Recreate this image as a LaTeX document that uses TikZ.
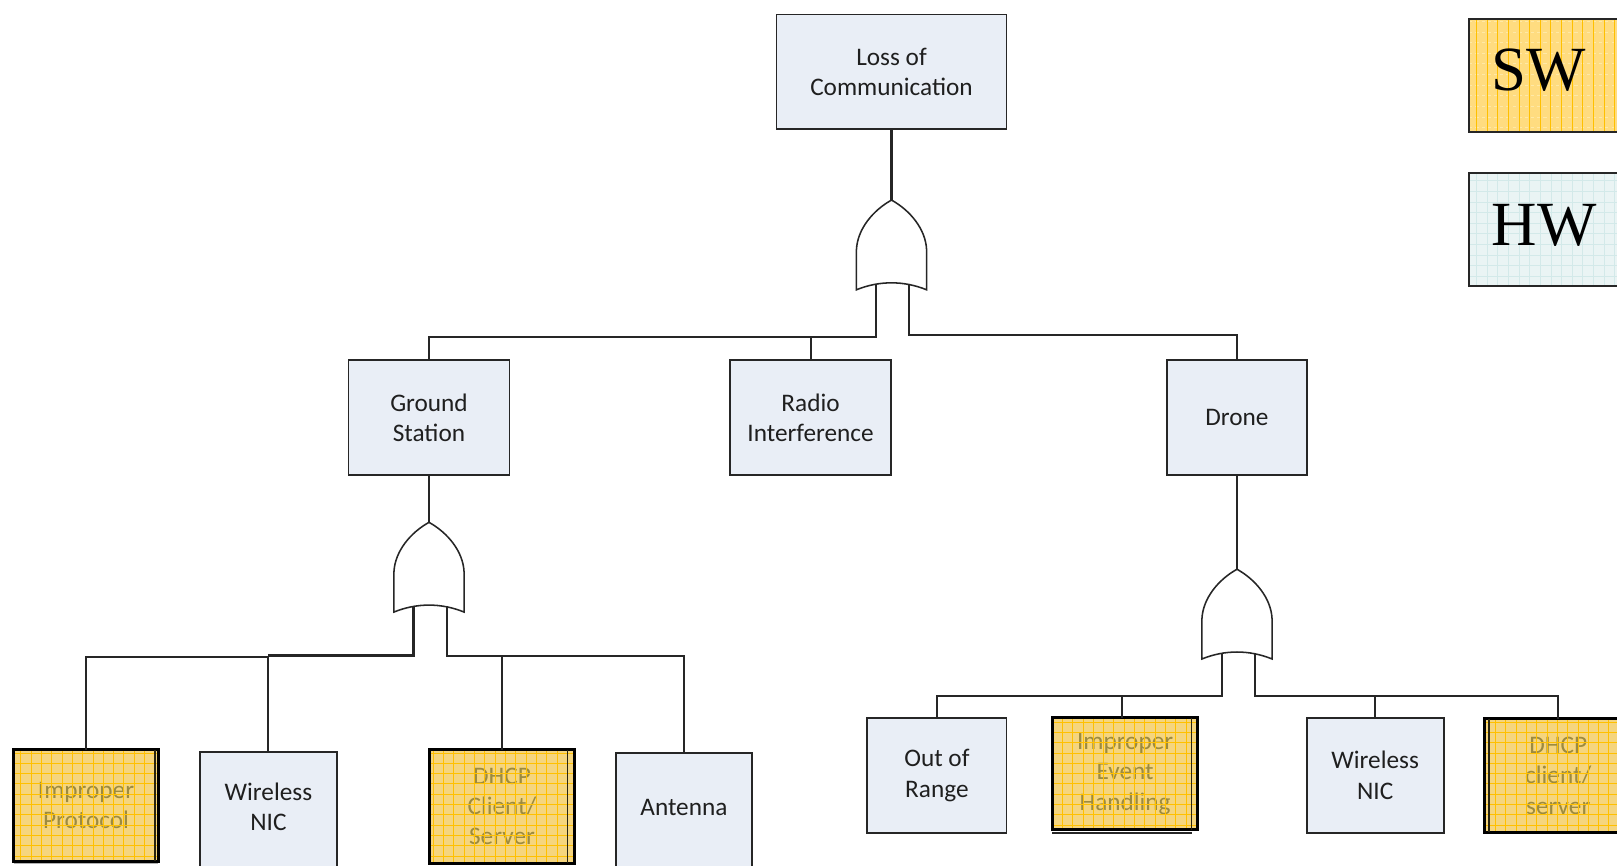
\documentclass[tikz,border=0pt]{standalone}
\usepackage{fontspec}
\setmainfont{Carlito}
\newfontfamily\tnr{Liberation Serif}
\definecolor{hwfill}{HTML}{E9EEF6}
\definecolor{swfill}{HTML}{F5D57E}
\definecolor{swgrid}{HTML}{FFC000}
\definecolor{swtext}{HTML}{9C8A3E}
\definecolor{swlfill}{HTML}{FFDC80}
\definecolor{hwlfill}{HTML}{EAF4F4}
\definecolor{hwlgrid}{HTML}{D3E9E9}
\definecolor{edge}{HTML}{262626}
\tikzset{
  box/.style={rectangle, inner sep=0pt, align=center, font=\fontsize{24.5}{29.5}\selectfont, text=black!88},
  hwbox/.style={box, draw=edge, line width=1.8pt, fill=hwfill},
  swbox/.style={box, fill=swfill, text=swtext},
  conn/.style={draw=edge, line width=2pt},
  innerl/.style={draw=black!75!swtext, line width=1.2pt},
  orgate/.pic={
    \draw[fill=white, draw=edge, line width=1.5pt] (0,0) .. controls (-18,10) and (-33,28) .. (-34,48)
      -- (-34,87) .. controls (-12,78) and (12,78) .. (34,87) -- (34,48)
      .. controls (33,28) and (18,10) .. (0,0) -- cycle;
    \coordinate (-top) at (0,0);
    \coordinate (-l) at (-15,81);
    \coordinate (-r) at (17,81);
  }
}
\newcommand\swgridbox[1]{%
  \begin{scope}
    \clip (#1.south west) rectangle (#1.north east);
    \draw[swgrid, line width=0.6pt, step=10pt] (#1.south west) grid (#1.north east);
  \end{scope}
  \draw[black, line width=2.6pt] (#1.south west) rectangle (#1.north east);}
\begin{document}
\begin{tikzpicture}[x=1pt,y=-1pt]
\path[use as bounding box] (0,0) rectangle (1568,839);
\clip (0,0) rectangle (1568,839);
\fill[white] (0,0) rectangle (1568,839);

% bus levels
\coordinate (bus1l) at (0,327);
\coordinate (bus1r) at (0,325);
\coordinate (bus2a) at (0,635.5);
\coordinate (bus2b) at (0,637.5);
\coordinate (bus2c) at (0,635.8);
\coordinate (bus3) at (0,674.8);

% top level
\node[hwbox, minimum width=223pt, minimum height=111pt] (loc) at (864.5,69.5) {Loss of\\Communication};
\node[hwbox, minimum width=156pt, minimum height=112pt] (gs) at (416,405) {Ground\\Station};
\node[hwbox, minimum width=156pt, minimum height=112pt] (rad) at (786,405) {Radio\\Interference};
\node[hwbox, minimum width=135pt, minimum height=112pt] (drone) at (1199.5,405) {Drone};

% gates
\pic (g1) at (864.5,194) {orgate};
\pic (g2) at (416,506.5) {orgate};
\pic (g3) at (1199.5,552) {orgate};

% bottom level, ground station
\node[swbox, minimum width=139.6pt, minimum height=108pt] (ip) at (83.4,781) {Improper\\Protocol};
\node[hwbox, minimum width=132.5pt, minimum height=120pt, anchor=north] (wnic1) at (260.3,728.2) {};
\node[box] (wnic1t) at (260.3,782.5) {Wireless\\NIC};
\node[swbox, minimum width=139.6pt, minimum height=110pt] (dhcp1) at (486.8,782) {DHCP\\Client/\\Server};
\node[hwbox, minimum width=132.5pt, minimum height=120pt, anchor=north] (ant) at (663.2,729) {};
\node[box] (antt) at (663.2,783) {Antenna};

% bottom level, drone
\node[hwbox, minimum width=135pt, minimum height=112pt] (oor) at (908.5,752) {Out of\\Range};
\node[swbox, minimum width=140.6pt, minimum height=108pt] (ieh) at (1091,750.2) {Improper\\Event\\Handling};
\node[hwbox, minimum width=133pt, minimum height=112pt] (wnic2) at (1333.5,752) {Wireless\\NIC};
\node[swbox, minimum width=142pt, minimum height=110pt] (dhcp2) at (1511,752) {DHCP\\client/\\server};

\swgridbox{ip}
\swgridbox{dhcp1}
\swgridbox{ieh}
\swgridbox{dhcp2}
\draw[innerl] ([xshift=-3pt]ip.north east) -- ([xshift=-3pt]ip.south east);
\draw[innerl] ([xshift=-6.5pt]dhcp1.north east) -- ([xshift=-6.5pt]dhcp1.south east);
\draw[innerl] ([xshift=-5.8pt]ieh.north east) -- ([xshift=-5.8pt]ieh.south east);
\draw[edge, line width=1.4pt] ([yshift=-3.4pt]ieh.south west) -- ([xshift=-5.8pt,yshift=-3.4pt]ieh.south east);
\draw[innerl] ([xshift=4pt]dhcp2.north west) -- ([xshift=4pt]dhcp2.south west);
\draw[gray!60, line width=1pt] ([yshift=-2.5pt]ip.south west) -- ([yshift=-2.5pt]ip.south east);

% connectors
\draw[conn] (loc.south) -- (g1-top);
\draw[conn] (g1-l) -- (g1-l |- bus1l) -| (gs.north);
\draw[conn] (rad.north) -- (rad.north |- bus1l);
\draw[conn] (g1-r) -- (g1-r |- bus1r) -| (drone.north);

\draw[conn] (gs.south) -- (g2-top);
\draw[conn, line width=2.8pt] (g2-l) -- (g2-l |- bus2a) -- (wnic1.north |- bus2a);
\draw[conn] (wnic1.north) -- (wnic1.north |- bus2b) -| (ip.north);
\draw[conn] (g2-r) -- (g2-r |- bus2c) -| (ant.north);
\draw[conn] (dhcp1.north) -- (dhcp1.north |- bus2c);

\draw[conn] (drone.south) -- (g3-top);
\draw[conn] (g3-l) -- (g3-l |- bus3) -| (oor.north);
\draw[conn] ([xshift=-2.7pt]ieh.north) -- ([xshift=-2.7pt]ieh.north |- bus3);
\draw[conn] (g3-r) -- (g3-r |- bus3) -| (dhcp2.north);
\draw[conn] (wnic2.north) -- (wnic2.north |- bus3);

% legend
\node[rectangle, fill=swlfill, inner sep=0pt, minimum width=190pt, minimum height=109.3pt, anchor=north west] (sw) at (1424.7,18.4) {};
\begin{scope}
  \clip (sw.south west) rectangle (sw.north east);
  \draw[swgrid!35, dashed, line width=0.5pt, xstep=1000pt, ystep=10.3pt] (sw.south west) grid (sw.north east);
  \draw[swgrid, line width=0.8pt, xstep=10.3pt, ystep=1000pt] (sw.south west) grid (sw.north east);
\end{scope}
\draw[edge, line width=2pt] (sw.south west) rectangle (sw.north east);
\node[font=\tnr\fontsize{61}{61}\selectfont, anchor=base west, inner sep=0pt] (swt) at (1446.4,88) {SW};

\node[rectangle, fill=hwlfill, inner sep=0pt, minimum width=190pt, minimum height=109.3pt, anchor=north west] (hw) at (1424.7,168) {};
\begin{scope}
  \clip (hw.south west) rectangle (hw.north east);
  \draw[hwlgrid, line width=0.5pt, step=10.3pt] (hw.south west) grid (hw.north east);
\end{scope}
\draw[edge, line width=2pt] (hw.south west) rectangle (hw.north east);
\node[font=\tnr\fontsize{61}{61}\selectfont, anchor=base west, inner sep=0pt] (hwt) at (1446.4,237.6) {HW};
\end{tikzpicture}
\end{document}
